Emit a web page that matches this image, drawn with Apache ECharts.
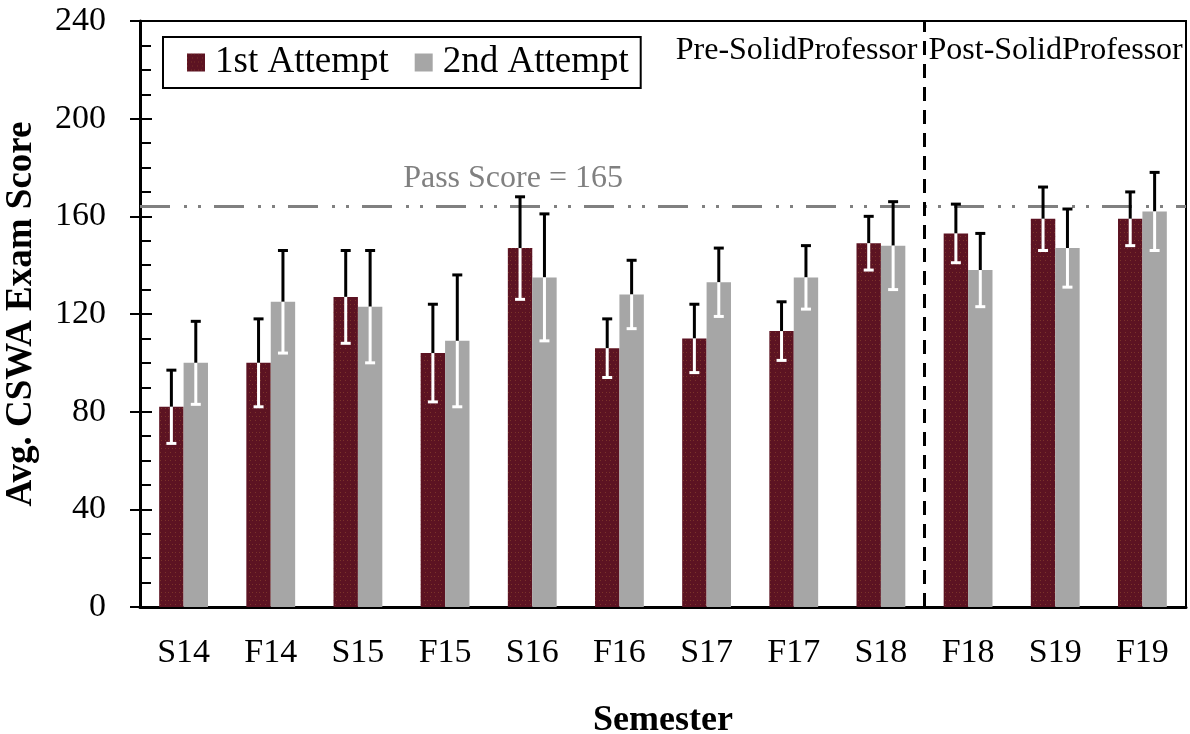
<!DOCTYPE html>
<html>
<head>
<meta charset="utf-8">
<script src="https://cdn.jsdelivr.net/npm/echarts@6/dist/echarts.min.js"></script>
<style>
  html, body { margin: 0; background: #fff; }
  #chart { width: 1190px; height: 734px; }
</style>
</head>
<body>
<div id="chart"></div>
<script>
const semesters = ['S14', 'F14', 'S15', 'F15', 'S16', 'F16', 'S17', 'F17', 'S18', 'F18', 'S19', 'F19']
const attempt1 = [82, 100, 127, 104, 147, 106, 110, 113, 149, 153, 159, 159]
const attempt1Err = [15, 18, 19, 20, 21, 12, 14, 12, 11, 12, 13, 11]
const attempt2 = [100, 125, 123, 109, 135, 128, 133, 135, 148, 138, 147, 162]
const attempt2Err = [17, 21, 23, 27, 26, 14, 14, 13, 18, 15, 16, 16]
const passScore = 164          // where the dashed line sits in the picture
const passLabel = 'Pass Score = 165'
const dividerAt = 9            // boundary between S18 and F18
const yMin = 0, yMax = 240, yStep = 40

const serif = 'Liberation Serif'
const maroon = '#5c1322'
const grey = '#a6a6a6'

// error bars: black whisker above the bar top, white one inside the bar
function errorBars(name, vals, errs, side) {
    return {
        type: 'custom',
        name: name,
        silent: true,
        z: 10,
        data: vals.map((v, i) => [i, v, errs[i]]),
        renderItem(params, api) {
            const band = api.size([1, 0])[0]
            const i = api.value(0), v = api.value(1), e = api.value(2)
            const top = api.coord([i, v])
            const hi = api.coord([i, v + e])
            const lo = api.coord([i, v - e])
            const x = top[0] + side * band * 0.14
            const cap = 5
            const blk = { stroke: '#000', lineWidth: 3 }
            const wht = { stroke: '#fff', lineWidth: 3 }
            return {
                type: 'group',
                children: [
                    { type: 'line', shape: { x1: x, y1: top[1], x2: x, y2: hi[1] }, style: blk },
                    { type: 'line', shape: { x1: x - cap, y1: hi[1], x2: x + cap, y2: hi[1] }, style: blk },
                    { type: 'line', shape: { x1: x, y1: top[1], x2: x, y2: lo[1] }, style: wht },
                    { type: 'line', shape: { x1: x - cap, y1: lo[1], x2: x + cap, y2: lo[1] }, style: wht }
                ]
            }
        }
    }
}

const chart = echarts.init(document.getElementById('chart'))

const option = {
    animation: false,
    aria: { enabled: true, decal: { show: true } },
    textStyle: { fontFamily: serif, color: '#000' },
    grid: {
        left: 140, right: 4, top: 21, bottom: 127,
        containLabel: false,
        outerBoundsMode: 'none',
        show: true, borderColor: '#000', borderWidth: 2
    },
    legend: {
        data: ['1st Attempt', '2nd Attempt'],
        left: 163, top: 37,
        icon: 'rect',
        itemWidth: 18, itemHeight: 18, itemGap: 26,
        borderColor: '#000', borderWidth: 2, borderRadius: 0,
        padding: [7, 12, 7, 24],
        textStyle: { fontFamily: serif, fontSize: 37, color: '#000', padding: [0, 0, 0, 5] }
    },
    xAxis: [{
        type: 'category',
        data: semesters,
        name: 'Semester',
        nameLocation: 'middle',
        nameGap: 96,
        nameTextStyle: { fontFamily: serif, fontSize: 36, fontWeight: 'bold', color: '#000' },
        axisLine: { lineStyle: { color: '#000', width: 3 } },
        axisTick: { show: false },
        axisLabel: { fontFamily: serif, fontSize: 34, color: '#000', margin: 29 }
    }, {
        // helper axis so the divider can sit between two categories
        type: 'value', min: 0, max: semesters.length, show: false
    }],
    yAxis: [{
        type: 'value',
        min: yMin, max: yMax, interval: yStep,
        name: 'Avg. CSWA Exam Score',
        nameLocation: 'middle',
        nameGap: 100,
        nameTextStyle: { fontFamily: serif, fontSize: 37, fontWeight: 'bold', color: '#000' },
        axisLine: { show: true, lineStyle: { color: '#000', width: 3 } },
        axisTick: { show: true, length: 10, lineStyle: { color: '#000', width: 2 } },
        axisLabel: { fontFamily: serif, fontSize: 34, color: '#000', margin: 34 },
        splitLine: { show: false }
    }, {
        type: 'value',
        min: yMin, max: yMax, interval: yStep,
        position: 'left',
        axisLine: { show: false },
        axisTick: { show: true, inside: true, length: 12, lineStyle: { color: '#000', width: 2 } },
        minorTick: { show: true, splitNumber: 4, length: 11, lineStyle: { color: '#000', width: 2 } },
        axisLabel: { show: false },
        splitLine: { show: false }
    }],
    series: [{
        name: '1st Attempt',
        type: 'bar',
        data: attempt1,
        barWidth: '28%',
        barGap: '0%',
        itemStyle: {
            color: maroon,
            decal: {
                symbol: 'rect', symbolSize: 1,
                color: 'rgba(150, 80, 50, 0.55)',
                dashArrayX: [[1, 4], [1, 3, 1, 2]],
                dashArrayY: [1, 3],
                rotation: 0
            }
        },
        markLine: {
            silent: true,
            symbol: 'none',
            label: { show: false },
            lineStyle: { color: '#808080', width: 3, type: [30, 14, 3, 11, 3, 13] },
            data: [{ yAxis: passScore }]
        }
    }, {
        name: '2nd Attempt',
        type: 'bar',
        data: attempt2,
        barWidth: '28%',
        barGap: '0%',
        itemStyle: { color: grey, decal: { symbol: 'none' } }
    },
    errorBars('err1', attempt1, attempt1Err, -1),
    errorBars('err2', attempt2, attempt2Err, 1),
    {
        name: 'divider',
        type: 'line',
        xAxisIndex: 1,
        data: [],
        markLine: {
            silent: true,
            symbol: 'none',
            label: { show: false },
            lineStyle: { color: '#000', width: 3, type: [14, 9] },
            data: [{ xAxis: dividerAt }]
        }
    }]
}

chart.setOption(option)

// annotations placed from the chart's own scales
const divX = chart.convertToPixel({ xAxisIndex: 1 }, dividerAt)
const topY = chart.convertToPixel({ yAxisIndex: 0 }, yMax)
const passY = chart.convertToPixel({ yAxisIndex: 0 }, passScore)
const passX = chart.convertToPixel({ xAxisIndex: 1 }, 4.28)
chart.setOption({
    graphic: [
        { type: 'text', x: divX - 7, y: topY + 30, style: { text: 'Pre-SolidProfessor', font: '32px "Liberation Serif"', fill: '#000', align: 'right', verticalAlign: 'middle' } },
        { type: 'text', x: divX + 4, y: topY + 30, style: { text: 'Post-SolidProfessor', font: '32px "Liberation Serif"', fill: '#000', align: 'left', verticalAlign: 'middle' } },
        { type: 'text', x: passX, y: passY - 28, style: { text: passLabel, font: '32px "Liberation Serif"', fill: '#808080', align: 'center', verticalAlign: 'middle' } }
    ]
})

window.addEventListener('resize', () => chart.resize())
</script>
</body>
</html>
